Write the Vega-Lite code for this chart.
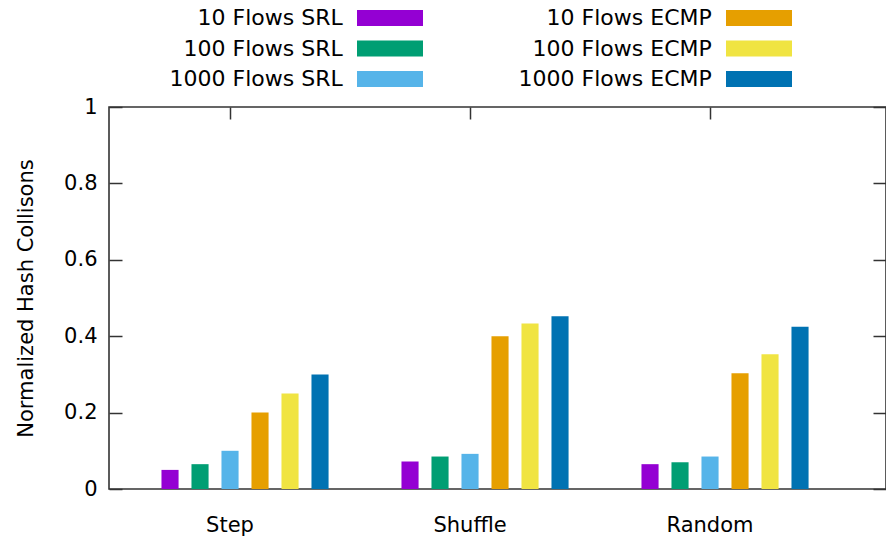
{
  "$schema": "https://vega.github.io/schema/vega-lite/v6.json",
  "width": 777,
  "height": 382,
  "autosize": {"type": "none"},
  "padding": {"left": 109, "top": 107, "right": 0, "bottom": 53},
  "config": {
    "font": "DejaVu Sans",
    "view": {"stroke": "#333", "strokeWidth": 1.6},
    "axis": {"grid": false, "domain": false, "labelColor": "#000", "titleColor": "#000", "tickColor": "#333", "tickWidth": 1.5, "labelFontSize": 21, "titleFontSize": 21, "titleFontWeight": "normal"}
  },
  "data": {
    "values": [
      {"scenario": "Step", "series": "10 Flows SRL", "value": 0.05},
      {"scenario": "Step", "series": "100 Flows SRL", "value": 0.065},
      {"scenario": "Step", "series": "1000 Flows SRL", "value": 0.1},
      {"scenario": "Step", "series": "10 Flows ECMP", "value": 0.2},
      {"scenario": "Step", "series": "100 Flows ECMP", "value": 0.25},
      {"scenario": "Step", "series": "1000 Flows ECMP", "value": 0.3},
      {"scenario": "Shuffle", "series": "10 Flows SRL", "value": 0.072},
      {"scenario": "Shuffle", "series": "100 Flows SRL", "value": 0.085},
      {"scenario": "Shuffle", "series": "1000 Flows SRL", "value": 0.092},
      {"scenario": "Shuffle", "series": "10 Flows ECMP", "value": 0.4},
      {"scenario": "Shuffle", "series": "100 Flows ECMP", "value": 0.433},
      {"scenario": "Shuffle", "series": "1000 Flows ECMP", "value": 0.452},
      {"scenario": "Random", "series": "10 Flows SRL", "value": 0.065},
      {"scenario": "Random", "series": "100 Flows SRL", "value": 0.07},
      {"scenario": "Random", "series": "1000 Flows SRL", "value": 0.085},
      {"scenario": "Random", "series": "10 Flows ECMP", "value": 0.303},
      {"scenario": "Random", "series": "100 Flows ECMP", "value": 0.353},
      {"scenario": "Random", "series": "1000 Flows ECMP", "value": 0.425}
    ]
  },
  "layer": [
    {
      "mark": {"type": "bar"},
      "encoding": {
        "x": {
          "field": "scenario", "type": "nominal", "sort": ["Step", "Shuffle", "Random"],
          "scale": {"paddingInner": 0.125, "paddingOuter": 0.18125, "align": 0.184},
          "axis": {"orient": "bottom", "title": null, "ticks": false, "labelAngle": 0, "labelPadding": 25}
        },
        "xOffset": {
          "field": "series", "type": "nominal",
          "sort": ["10 Flows SRL", "100 Flows SRL", "1000 Flows SRL", "10 Flows ECMP", "100 Flows ECMP", "1000 Flows ECMP"],
          "scale": {"paddingInner": 0.43, "paddingOuter": 0.715, "align": 0.85}
        },
        "y": {
          "field": "value", "type": "quantitative",
          "scale": {"domain": [0, 1]},
          "axis": {"orient": "left", "title": "Normalized Hash Collisons", "values": [0, 0.2, 0.4, 0.6, 0.8, 1], "format": "~g", "tickSize": -13, "labelPadding": 25, "titlePadding": 27}
        },
        "color": {
          "field": "series", "type": "nominal",
          "scale": {
            "domain": ["10 Flows SRL", "100 Flows SRL", "1000 Flows SRL", "10 Flows ECMP", "100 Flows ECMP", "1000 Flows ECMP"],
            "range": ["#9400d3", "#009e73", "#56b4e9", "#e69f00", "#f0e442", "#0072b2"]
          },
          "legend": {
            "orient": "none", "legendX": 270, "legendY": -100, "columns": 2, "title": null,
            "symbolType": "M-4,-0.97H4V0.97H-4Z", "symbolSize": 272.25, "symbolStrokeWidth": 0, "symbolOpacity": 1,
            "labelAlign": "right", "labelOffset": -58.25, "labelFontSize": 22, "labelColor": "#000", "labelLimit": 400,
            "rowPadding": 8.5, "columnPadding": 95
          }
        }
      }
    },
    {
      "mark": {"type": "point", "opacity": 0},
      "encoding": {
        "x": {"field": "scenario", "type": "nominal", "sort": ["Step", "Shuffle", "Random"], "axis": {"orient": "top", "labels": false, "title": null, "tickSize": -12}},
        "y": {"field": "value", "type": "quantitative", "axis": {"orient": "right", "labels": false, "title": null, "tickSize": -13, "values": [0, 0.2, 0.4, 0.6, 0.8, 1]}}
      }
    }
  ],
  "resolve": {"axis": {"x": "independent", "y": "independent"}}
}
